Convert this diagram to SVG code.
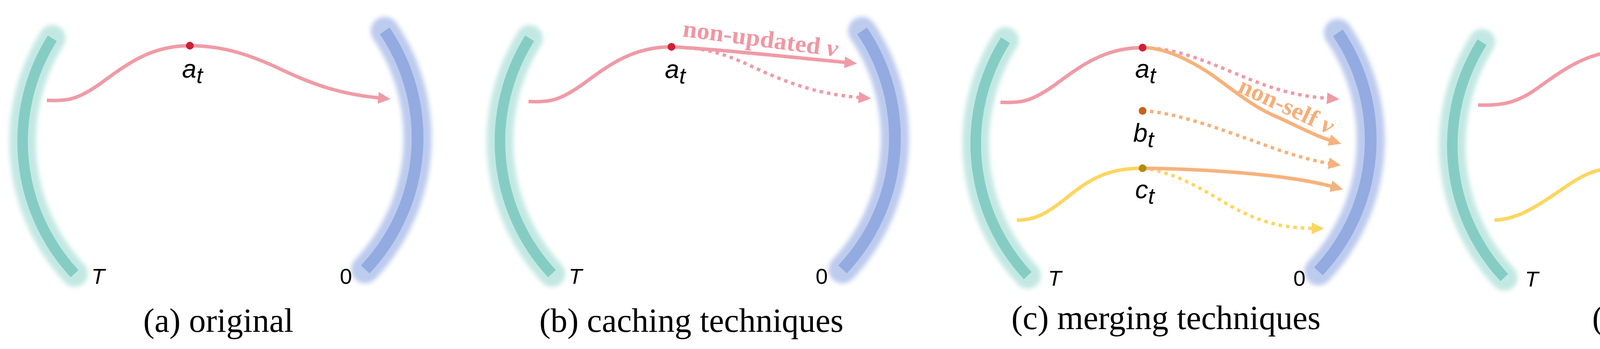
<svg xmlns="http://www.w3.org/2000/svg" width="4782" height="894" viewBox="0 0 4782 894">
<defs>
<style>
.tglow{fill:none;stroke:#c3e8e3;stroke-width:68;stroke-linecap:round;filter:url(#blur)}
.tstrip{fill:none;stroke:#85cdc4;stroke-width:27}
.bglow{fill:none;stroke:#bccbee;stroke-width:72;stroke-linecap:round;filter:url(#blur)}
.bstrip{fill:none;stroke:#93abe1;stroke-width:30}
.ln{fill:none;stroke-width:9}
.dt{fill:none;stroke-width:8.5;stroke-dasharray:9 10}
.pk{stroke:#ef9ba6}
.or{stroke:#f6b27c}
.ye{stroke:#fdd660}
.lbl{font-family:"Liberation Sans",Arial,sans-serif;font-style:italic;font-size:66px;fill:#000}
.sub{font-size:58px}
.ax{font-family:"Liberation Sans",Arial,sans-serif;font-size:56px;fill:#000}
.cap{font-family:"Liberation Serif","Times New Roman",serif;font-size:86px;text-anchor:middle;fill:#000}
.ann{font-family:"Liberation Serif","Times New Roman",serif;font-weight:bold;font-size:62px}
</style>
<filter id="blur" x="-60%" y="-20%" width="220%" height="140%"><feGaussianBlur stdDeviation="6"/></filter>
<marker id="mpk" markerUnits="userSpaceOnUse" viewBox="0 0 32 30" markerWidth="32" markerHeight="30" refX="4" refY="15" orient="auto"><path d="M0,0 L32,15 L0,30 z" fill="#ef9ba6"/></marker>
<marker id="mor" markerUnits="userSpaceOnUse" viewBox="0 0 32 30" markerWidth="32" markerHeight="30" refX="4" refY="15" orient="auto"><path d="M0,0 L32,15 L0,30 z" fill="#f6b27c"/></marker>
<marker id="mye" markerUnits="userSpaceOnUse" viewBox="0 0 32 30" markerWidth="32" markerHeight="30" refX="4" refY="15" orient="auto"><path d="M0,0 L32,15 L0,30 z" fill="#fdd660"/></marker>
<marker id="mgr" markerUnits="userSpaceOnUse" viewBox="0 0 32 30" markerWidth="32" markerHeight="30" refX="4" refY="15" orient="auto"><path d="M0,0 L32,15 L0,30 z" fill="#f1a0a4"/></marker>
<linearGradient id="grad" gradientUnits="userSpaceOnUse" x1="4163" y1="130" x2="4638" y2="276">
<stop offset="0" stop-color="#f0a0a8"/>
<stop offset="0.15" stop-color="#f5b49c"/>
<stop offset="0.45" stop-color="#fcd27c"/>
<stop offset="0.75" stop-color="#f8be8e"/>
<stop offset="1" stop-color="#f09ca6"/>
</linearGradient>
<g id="brackets">
<path class="tglow" d="M134,98 A497,497 0 0 0 191,701"/>
<path class="tstrip" d="M134,98 A497,497 0 0 0 191,701"/>
<path class="bglow" d="M985,79 A490,490 0 0 1 935,690"/>
<path class="bstrip" d="M985,79 A490,490 0 0 1 935,690"/>
</g>
</defs>
<rect width="4782" height="894" fill="#fff"/>

<g id="panel-a-bounds"><use href="#brackets"/></g>
<g id="panel-b-bounds"><use href="#brackets" transform="translate(1222,0)"/></g>
<g id="panel-c-bounds"><use href="#brackets" transform="translate(2440,5)"/></g>
<g id="panel-d-bounds"><use href="#brackets" transform="translate(3660,10)"/></g>

<g id="connectors">
<path class="ln pk" d="M120,257 C175,259 200,255 260,212 C330,160 390,117 486,117 C570,117 640,140 720,178 C810,221 880,242 972,251" marker-end="url(#mpk)"/>
<path class="ln pk" d="M1353,260 C1408,262 1433,258 1493,215 C1563,163 1623,120 1719,120"/>
<path class="dt pk" d="M1719,120 C1800,122 1850,135 1920,168 C2000,205 2080,240 2202,250" marker-end="url(#mpk)"/>
<path class="ln pk" d="M1719,120 C1850,127 2000,144 2166,160" marker-end="url(#mpk)"/>
<path class="ln pk" d="M2561,262 C2616,264 2641,260 2701,217 C2771,165 2831,122 2925,122"/>
<path class="dt pk" d="M2925,122 C3000,124 3060,145 3150,183 C3240,220 3300,245 3401,252" marker-end="url(#mpk)"/>
<path class="ln or" d="M2925,122 C2980,122 3040,150 3100,190 C3170,240 3210,275 3270,300 C3320,322 3360,345 3407,360" marker-end="url(#mor)"/>
<path class="dt or" d="M2925,284 C2980,286 3050,305 3150,340 C3250,375 3320,405 3405,419" marker-end="url(#mor)"/>
<path class="ln ye" d="M2603,564 C2650,564 2680,548 2740,499 C2800,450 2850,431 2925,431"/>
<path class="dt ye" d="M2925,431 C2990,438 3050,468 3120,510 C3200,558 3260,584 3362,585" marker-end="url(#mye)"/>
<path class="ln or" d="M2925,431 C3100,433 3300,448 3411,478" marker-end="url(#mor)"/>
<path class="ln pk" d="M3784,269 C3840,271 3880,265 3930,230 C4010,172 4070,130 4163,130"/>
<path class="ln" stroke="url(#grad)" d="M4163,130 C4230,140 4300,180 4380,215 C4460,250 4540,270 4638,276" marker-end="url(#mgr)"/>
<path class="dt pk" d="M4163,130 C4230,132 4300,155 4400,200 C4480,235 4550,255 4631,259" marker-end="url(#mpk)"/>
<path class="ln ye" d="M3826,564 C3880,562 3925,535 3985,494 C4045,453 4080,427 4158,430 C4220,433 4300,490 4392,535 C4440,558 4510,580 4587,583" marker-end="url(#mye)"/>
<path d="M4425,522 L4425,257" fill="none" stroke="#fdd660" stroke-width="5" stroke-dasharray="5 5"/>
<polyline points="4411,274 4425,252 4439,274" fill="none" stroke="#fdd660" stroke-width="4"/>
</g>

<g id="labels-annot">
<text class="ann" fill="#ef97a3" transform="translate(1746,93) rotate(7.5)" textLength="400" lengthAdjust="spacingAndGlyphs">non-updated <tspan font-style="italic">v</tspan></text>
<text class="ann" fill="#f5ae78" transform="translate(3166,234) rotate(25)" textLength="262" lengthAdjust="spacingAndGlyphs">non-self <tspan font-style="italic">v</tspan></text>
<text class="ann" transform="translate(4196,96) rotate(19)" textLength="455" lengthAdjust="spacingAndGlyphs"><tspan fill="#ef97a3">self &amp; </tspan><tspan fill="#fbbd16">updated </tspan><tspan fill="#ef97a3" font-style="italic">v</tspan></text>
<text class="ann" fill="#fbc22c" transform="translate(4391,501) rotate(-90)" textLength="226" lengthAdjust="spacingAndGlyphs">residuals</text>
</g>

<g id="node-a-at"><circle cx="486" cy="117" r="10" fill="#cf1f36"/><text class="lbl" x="466" y="199">a<tspan class="sub" dy="14">t</tspan></text></g>
<g id="node-a-T"><text class="ax" x="234" y="727" font-style="italic">T</text></g>
<g id="node-a-0"><text class="ax" x="870" y="727">0</text></g>
<text class="cap" x="559" y="850">(a) original</text>

<g id="node-b-at"><circle cx="1719" cy="120" r="10" fill="#cf1f36"/><text class="lbl" x="1702" y="200">a<tspan class="sub" dy="14">t</tspan></text></g>
<g id="node-b-T"><text class="ax" x="1456" y="727" font-style="italic">T</text></g>
<g id="node-b-0"><text class="ax" x="2088" y="727">0</text></g>
<text class="cap" x="1770" y="850">(b) caching techniques</text>

<g id="node-c-at"><circle cx="2925" cy="122" r="10" fill="#cf1f36"/><text class="lbl" x="2906" y="199">a<tspan class="sub" dy="14">t</tspan></text></g>
<g id="node-c-bt"><circle cx="2925" cy="284" r="10" fill="#c6621a"/><text class="lbl" x="2901" y="363">b<tspan class="sub" dy="14">t</tspan></text></g>
<g id="node-c-ct"><circle cx="2925" cy="431" r="10" fill="#b38b10"/><text class="lbl" x="2906" y="508">c<tspan class="sub" dy="14">t</tspan></text></g>
<g id="node-c-T"><text class="ax" x="2683" y="732" font-style="italic">T</text></g>
<g id="node-c-0"><text class="ax" x="3311" y="732">0</text></g>
<text class="cap" x="2985" y="843">(c) merging techniques</text>

<g id="node-d-at"><circle cx="4163" cy="130" r="10" fill="#cf1f36"/><text class="lbl" x="4139" y="218">a<tspan class="sub" dy="15">t</tspan></text></g>
<g id="node-d-ct"><circle cx="4158" cy="430" r="10" fill="#b38b10"/><text class="lbl" x="4139" y="508">c<tspan class="sub" dy="15">t</tspan></text></g>
<g id="node-d-T"><text class="ax" x="3904" y="734" font-style="italic">T</text></g>
<g id="node-d-0"><text class="ax" x="4524" y="734">0</text></g>
<text class="cap" x="4211" y="843">(d) ours</text>
</svg>
